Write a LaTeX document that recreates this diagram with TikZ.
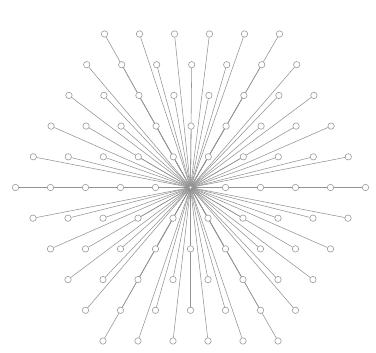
\documentclass[tikz,border=0pt]{standalone}
\usetikzlibrary{backgrounds}
\begin{document}
\begin{tikzpicture}[x=1pt,y=-1pt,
  vert/.style={circle,draw=gray!80,fill=white,line width=0.6pt,inner sep=0pt,minimum size=6.4pt},
  hub/.style={circle,draw=gray!90,fill=white,line width=0.5pt,inner sep=0pt,minimum size=3.5pt},
  spoke/.style={draw=gray!85,line width=0.55pt}]
\useasboundingbox (0,0) rectangle (376,353);
\node[hub] (c) at (190.5,187.5) {};
\foreach \j in {-5,...,5} {
  \pgfmathtruncatemacro{\aj}{abs(\j)}
  \pgfmathtruncatemacro{\kmax}{10-\aj}
  \foreach \k in {0,...,\kmax} {
    \pgfmathsetmacro{\xx}{190.5+35*(\k-\kmax/2)+(\j<0 ? -0.3*\j : 0)}
    \pgfmathsetmacro{\yy}{187.5+30.7*\j}
    \pgfmathtruncatemacro{\isc}{(\j==0)&&(\k==5)}
    \ifnum\isc=0
      \node[vert] (v\j_\k) at (\xx,\yy) {};
      \begin{pgfonlayer}{background}
        \draw[spoke] (c.center) -- (v\j_\k);
      \end{pgfonlayer}
    \fi
  }
}
\end{tikzpicture}
\end{document}
